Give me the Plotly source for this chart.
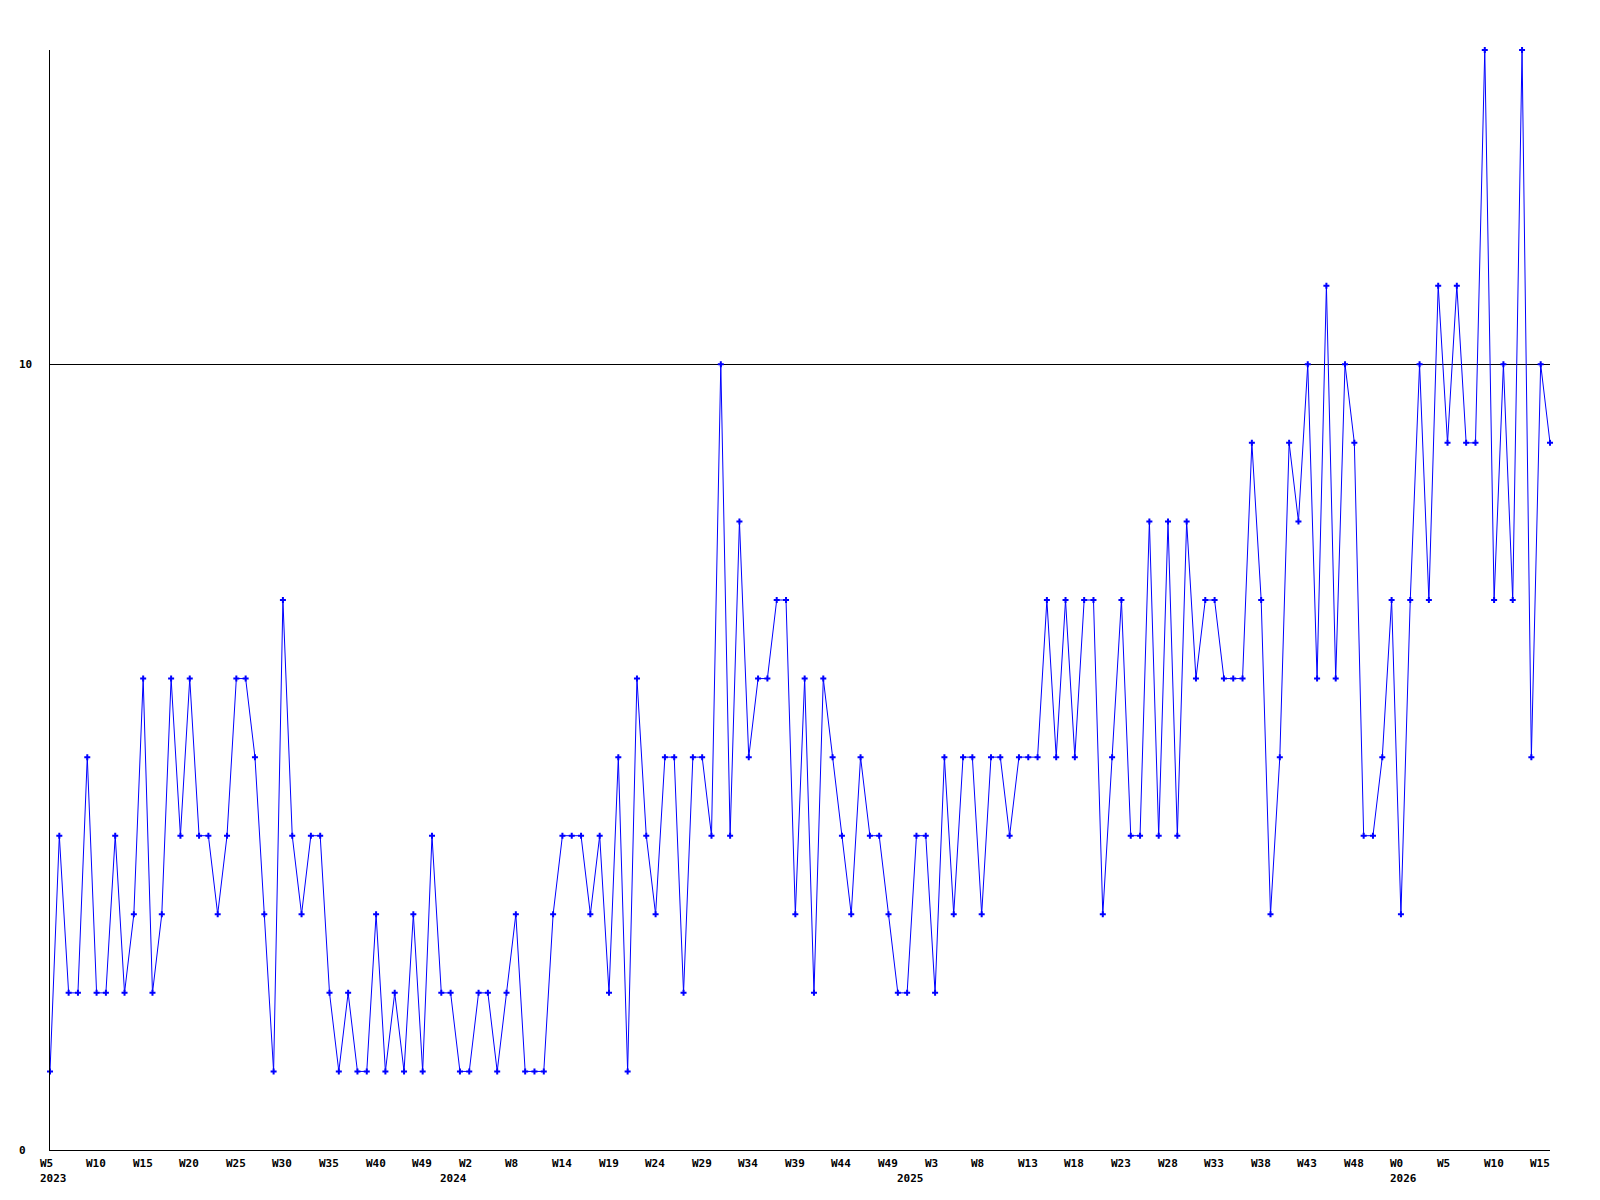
import plotly.graph_objects as go

# Weekly values (one per data point, left to right)
values = [
    1, 4, 2, 2, 5, 2, 2, 4, 2, 3,
    6, 2, 3, 6, 4, 6, 4, 4, 3, 4,
    6, 6, 5, 3, 1, 7, 4, 3, 4, 4,
    2, 1, 2, 1, 1, 3, 1, 2, 1, 3,
    1, 4, 2, 2, 1, 1, 2, 2, 1, 2,
    3, 1, 1, 1, 3, 4, 4, 4, 3, 4,
    2, 5, 1, 6, 4, 3, 5, 5, 2, 5,
    5, 4, 10, 4, 8, 5, 6, 6, 7, 7,
    3, 6, 2, 6, 5, 4, 3, 5, 4, 4,
    3, 2, 2, 4, 4, 2, 5, 3, 5, 5,
    3, 5, 5, 4, 5, 5, 5, 7, 5, 7,
    5, 7, 7, 3, 5, 7, 4, 4, 8, 4,
    8, 4, 8, 6, 7, 7, 6, 6, 6, 9,
    7, 3, 5, 9, 8, 10, 6, 11, 6, 10,
    9, 4, 4, 5, 7, 3, 7, 10, 7, 11,
    9, 11, 9, 9, 14, 7, 10, 7, 14, 5,
    10, 9,
]
x_index = list(range(len(values)))

# Week tick labels, one every 5 points
week_labels = [
    "W5", "W10", "W15", "W20", "W25", "W30", "W35", "W40", "W49", "W2", "W8",
    "W14", "W19", "W24", "W29", "W34", "W39", "W44", "W49", "W3", "W8",
    "W13", "W18", "W23", "W28", "W33", "W38", "W43", "W48", "W0", "W5",
    "W10", "W15",
]
week_tick_step = 5
week_tick_pos = [i * week_tick_step for i in range(len(week_labels))]

# Year labels and the point index where each is shown
year_labels = ["2023", "2024", "2025", "2026"]
year_label_pos = [0, 43, 92, 145]

# Y axis labels
y_tick_vals = [0, 10]
y_tick_text = ["0", "10"]

FONT = dict(family="DejaVu Sans Mono", size=11, color="black", weight="bold")

fig = go.Figure()
fig.add_trace(go.Scatter(
    x=x_index, y=values, mode="lines+markers",
    line=dict(color="#0000ff", width=1),
    marker=dict(symbol="cross", size=5, color="#0000ff", line=dict(width=0)),
    cliponaxis=False, showlegend=False, hoverinfo="x+y",
))

annotations = []
for pos, lab in zip(week_tick_pos, week_labels):
    annotations.append(dict(
        x=pos, y=0, xref="x", yref="paper", text=lab, showarrow=False,
        xanchor="left", yanchor="middle", xshift=-12.5, yshift=-13, font=FONT,
    ))
for pos, lab in zip(year_label_pos, year_labels):
    annotations.append(dict(
        x=pos, y=0, xref="x", yref="paper", text=lab, showarrow=False,
        xanchor="left", yanchor="middle", xshift=-12.5, yshift=-28, font=FONT,
    ))
for v, lab in zip(y_tick_vals, y_tick_text):
    annotations.append(dict(
        x=0, y=v, xref="paper", yref="y", text=lab, showarrow=False,
        xanchor="left", yanchor="middle", xshift=-33, font=FONT,
    ))

fig.update_layout(
    width=1600, height=1200,
    margin=dict(l=50, r=50, t=50, b=50),
    paper_bgcolor="white", plot_bgcolor="white",
    font=FONT,
    annotations=annotations,
    xaxis=dict(
        range=[0, len(values) - 1], tickvals=week_tick_pos, showticklabels=False,
        showgrid=False, zeroline=False, showline=True, linecolor="black",
        linewidth=1, ticks="",
    ),
    yaxis=dict(
        range=[0, 14], tickvals=y_tick_vals, showticklabels=False,
        showgrid=True, gridcolor="black", gridwidth=1, zeroline=False,
        showline=True, linecolor="black", linewidth=1, ticks="",
    ),
)

fig.write_html("out.html", config={"displayModeBar": False},
               post_script="document.body.style.margin='0';")
